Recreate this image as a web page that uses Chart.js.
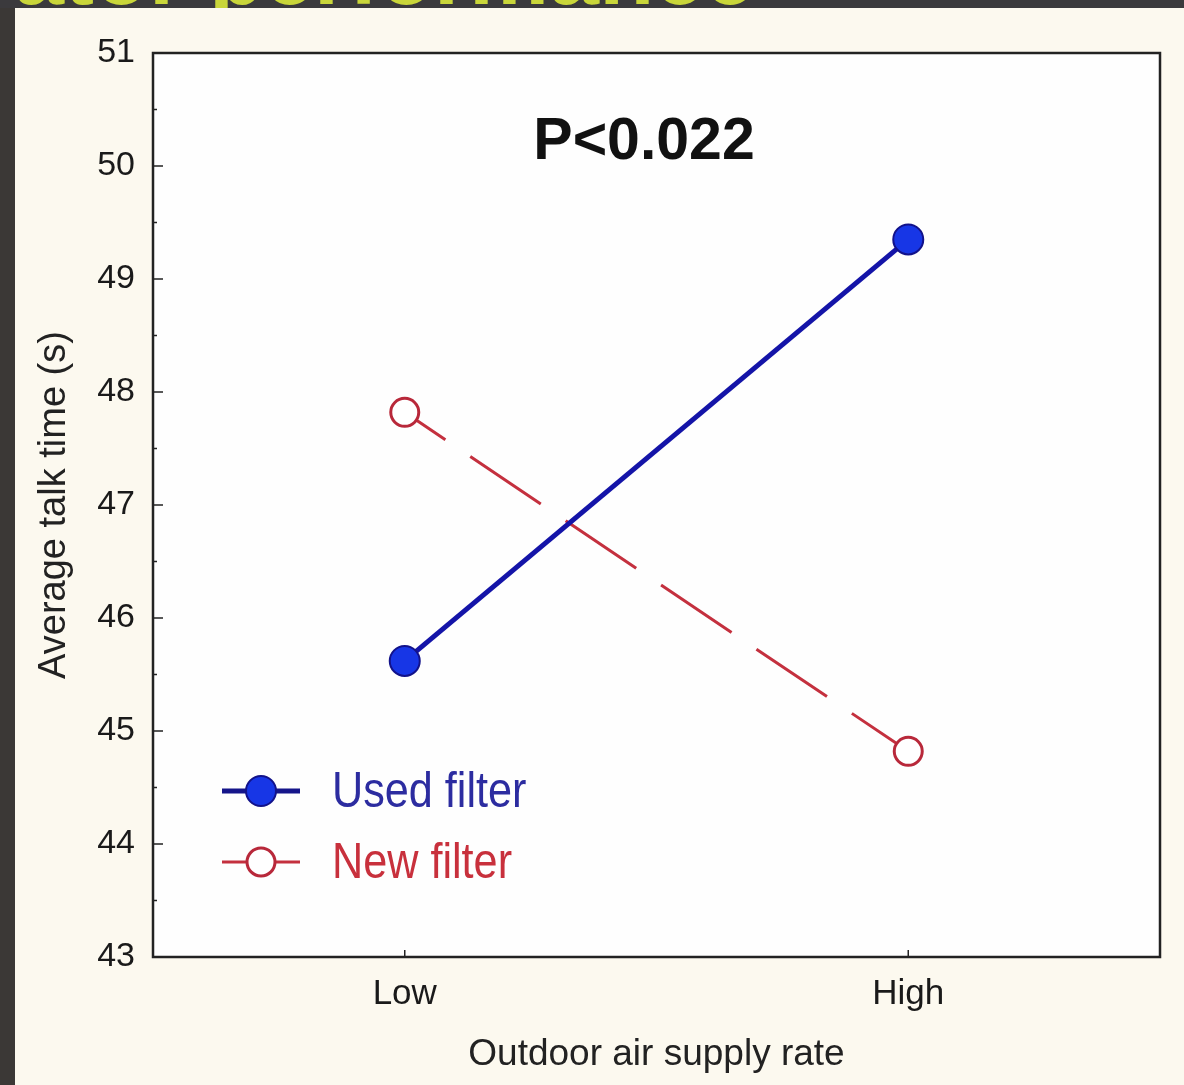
<!DOCTYPE html>
<html>
<head>
<meta charset="utf-8">
<script src="https://cdn.jsdelivr.net/npm/chart.js@4.4.0/dist/chart.umd.min.js"></script>
<style>
  body { margin: 0; background: #fcf9ef; }
  #wrap { position: absolute; left: 0; top: 0; width: 1184px; height: 1085px; }
  #leftbar { position: absolute; left: 0; top: 0; width: 15px; height: 1085px; background: #3b3836; }
  #topbar { position: absolute; left: 0; top: 0; width: 1184px; height: 8px; background: #3b3a3d; overflow: hidden; clip-path: inset(0 0 0 0); }
  #topbar span { position: absolute; left: 14px; top: -72px; font: bold 90px "Liberation Sans", Arial, sans-serif; line-height: 90px; color: #c9d63a; white-space: nowrap; }
</style>
</head>
<body>
<div id="wrap"><canvas id="myChart"></canvas></div>
<div id="leftbar"></div>
<div id="topbar"><span>ator performance</span></div>
<script>
const categories = ['Low', 'High'];
const usedFilter = [45.62, 49.35];
const newFilter = [47.82, 44.82];
const seriesNames = ['Used filter', 'New filter'];
const yMin = 43, yMax = 51;
const pValueText = 'P<0.022';

const FONT = '"Liberation Sans", Arial, sans-serif';

// white plot box, 4-sided frame, inward ticks, p-value and in-plot legend
const framePlugin = {
  id: 'frame',
  beforeDraw(chart) {
    const { ctx, chartArea: a } = chart;
    ctx.save();
    ctx.fillStyle = '#fefefe';
    ctx.fillRect(a.left, a.top, a.right - a.left, a.bottom - a.top);
    ctx.restore();
  },
  beforeDatasetsDraw(chart) {
    const { ctx, chartArea: a, scales: { x, y } } = chart;
    ctx.save();
    ctx.strokeStyle = '#222';
    ctx.lineWidth = 2.5;
    ctx.strokeRect(a.left, a.top, a.right - a.left, a.bottom - a.top);
    ctx.lineWidth = 1.5;
    ctx.beginPath();
    for (let v = yMin; v <= yMax; v += 0.5) {
      const py = y.getPixelForValue(v);
      const len = Number.isInteger(v) ? 10 : 4;
      ctx.moveTo(a.left, py);
      ctx.lineTo(a.left + len, py);
    }
    categories.forEach((c, i) => {
      const px = x.getPixelForValue(i);
      ctx.moveTo(px, a.bottom);
      ctx.lineTo(px, a.bottom - 7);
    });
    ctx.stroke();

    ctx.fillStyle = '#111';
    ctx.font = 'bold 59px ' + FONT;
    ctx.textAlign = 'center';
    ctx.textBaseline = 'alphabetic';
    ctx.fillText(pValueText, a.left + 491, a.top + 106);
    ctx.restore();
  },
  afterDatasetsDraw(chart) {
    const { ctx, chartArea: a } = chart;
    const textColors = ['#2c2ca0', '#c8303c'];
    chart.data.datasets.forEach((ds, i) => {
      const cy = a.top + 738 + i * 71;
      const x0 = a.left + 69;
      ctx.save();
      ctx.strokeStyle = i === 0 ? '#15158a' : ds.borderColor;
      ctx.lineWidth = ds.borderWidth;
      ctx.beginPath();
      ctx.moveTo(x0, cy);
      ctx.lineTo(x0 + 78, cy);
      ctx.stroke();
      ctx.beginPath();
      ctx.arc(x0 + 39, cy, ds.pointRadius, 0, Math.PI * 2);
      ctx.fillStyle = ds.pointBackgroundColor;
      ctx.fill();
      ctx.lineWidth = ds.pointBorderWidth;
      ctx.strokeStyle = ds.pointBorderColor;
      ctx.stroke();
      ctx.translate(x0 + 110, cy + 16);
      ctx.scale(0.9, 1.05);
      ctx.font = '48px ' + FONT;
      ctx.fillStyle = textColors[i];
      ctx.textAlign = 'left';
      ctx.textBaseline = 'alphabetic';
      ctx.fillText(ds.label, 0, 0);
      ctx.restore();
    });
  }
};

const ctx = document.getElementById('myChart');

new Chart(ctx, {
  type: 'line',
  data: {
    labels: categories,
    datasets: [
      {
        label: seriesNames[0],
        data: usedFilter,
        borderColor: '#1414a8',
        borderWidth: 5,
        pointRadius: 15,
        pointHoverRadius: 15,
        pointBackgroundColor: '#1736e6',
        pointBorderColor: '#12128a',
        pointBorderWidth: 2,
        tension: 0,
        order: 0,
      },
      {
        label: seriesNames[1],
        data: newFilter,
        borderColor: '#c4303e',
        borderWidth: 3,
        borderDash: [85, 30],
        borderDashOffset: 36,
        pointRadius: 14,
        pointHoverRadius: 14,
        pointBackgroundColor: '#ffffff',
        pointBorderColor: '#b8283a',
        pointBorderWidth: 3,
        tension: 0,
        order: 1,
      },
    ],
  },
  options: {
    responsive: true,
    maintainAspectRatio: false,
    animation: false,
    layout: { padding: { left: 0, top: 53, right: 24, bottom: 0 } },
    plugins: {
      legend: { display: false },
      tooltip: { enabled: false },
    },
    scales: {
      x: {
        offset: true,
        grid: { display: false },
        border: { display: false },
        ticks: { color: '#1a1a1a', font: { family: FONT, size: 35 }, padding: 8 },
        title: {
          display: true,
          text: 'Outdoor air supply rate',
          color: '#222',
          font: { family: FONT, size: 37 },
          padding: { top: 0, bottom: 8 },
        },
        afterFit(s) { s.height = 128; },
      },
      y: {
        min: yMin,
        max: yMax,
        grid: { display: false },
        border: { display: false },
        ticks: { stepSize: 1, color: '#1a1a1a', font: { family: FONT, size: 34 }, padding: 10 },
        title: {
          display: true,
          text: 'Average talk time (s)',
          color: '#222',
          font: { family: FONT, size: 38 },
          padding: { top: 32, bottom: 0 },
        },
        afterFit(s) { s.width = 153; },
      },
    },
  },
  plugins: [framePlugin],
});
</script>
</body>
</html>
